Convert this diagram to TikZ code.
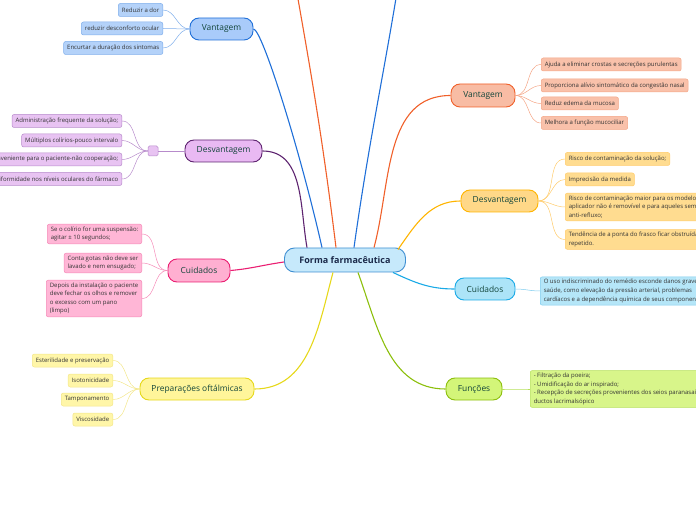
\documentclass[tikz,border=0pt]{standalone}
\usepackage{fontspec}
\setmainfont{Open Sans}
\usepackage{tikz}
\definecolor{HubFill}{HTML}{C6E9FB}
\definecolor{HubLine}{HTML}{3F8FD2}
\definecolor{HubText}{HTML}{1B2A4A}
\definecolor{BranchText}{HTML}{12453A}
\definecolor{LeafText}{HTML}{333333}
\definecolor{BlueFill}{HTML}{A9CBFA}
\definecolor{BlueLine}{HTML}{1F6FD8}
\definecolor{BlueLeafFill}{HTML}{B4D2F9}
\definecolor{BlueLeafLine}{HTML}{7FAEEB}
\definecolor{PurpFill}{HTML}{E9B9F3}
\definecolor{PurpLine}{HTML}{5E2470}
\definecolor{PurpLeafFill}{HTML}{E8C3F2}
\definecolor{PurpLeafLine}{HTML}{B78BCB}
\definecolor{PinkFill}{HTML}{FFAFD1}
\definecolor{PinkLine}{HTML}{EA1E72}
\definecolor{PinkLeafFill}{HTML}{FFB6D6}
\definecolor{PinkLeafLine}{HTML}{F58BB8}
\definecolor{YellFill}{HTML}{FFF59A}
\definecolor{YellLine}{HTML}{E6D81A}
\definecolor{YellLeafFill}{HTML}{FFF6A8}
\definecolor{YellLeafLine}{HTML}{F3E68A}
\definecolor{OrgFill}{HTML}{F8BCA4}
\definecolor{OrgLine}{HTML}{F0602A}
\definecolor{OrgLeafFill}{HTML}{F9C1AA}
\definecolor{OrgLeafLine}{HTML}{F4A586}
\definecolor{GoldFill}{HTML}{FFD888}
\definecolor{GoldLine}{HTML}{FFB400}
\definecolor{GoldLeafFill}{HTML}{FFDC90}
\definecolor{GoldLeafLine}{HTML}{FFCB6A}
\definecolor{CyanFill}{HTML}{ACE4F8}
\definecolor{CyanLine}{HTML}{19A9E6}
\definecolor{CyanLeafFill}{HTML}{B5E6F8}
\definecolor{CyanLeafLine}{HTML}{7FCDEE}
\definecolor{GreenFill}{HTML}{D3F579}
\definecolor{GreenLine}{HTML}{8CBF0C}
\definecolor{GreenLeafFill}{HTML}{D8F58A}
\definecolor{GreenLeafLine}{HTML}{B6E05A}

\tikzset{
  hub/.style={draw=HubLine, fill=HubFill, line width=0.9pt, rounded corners=10pt,
    minimum width=121pt, minimum height=24pt, inner sep=1pt, text=HubText,
    font=\fontsize{9}{10}\selectfont\bfseries},
  branch/.style 2 args={draw=#1, fill=#2, line width=0.9pt, rounded corners=9pt,
    minimum height=22pt, inner sep=1pt, text=BranchText,
    font=\fontsize{8.4}{9}\selectfont},
  leaf/.style 2 args={draw=#1, fill=#2, line width=0.5pt, rounded corners=2pt,
    inner xsep=3.5pt, inner ysep=2.5pt, minimum height=13pt, align=left,
    text=LeafText, font=\fontsize{6}{8.6}\selectfont},
  trunk/.style={line width=1.1pt},
  twig/.style={line width=0.5pt},
}

\begin{document}
\begin{tikzpicture}[x=1pt,y=1pt]
\path[use as bounding box] (0,0) rectangle (696,520);
% centre
\node[hub] (hub) at (345,260) {Forma farmacêutica};
\coordinate (offO) at (284,600);
\coordinate (offB) at (408,600);
% left side
\node[branch={BlueLine}{BlueFill}, minimum width=63pt] (vantL) at (221.5,491) {Vantagem};
\node[leaf={BlueLeafLine}{BlueLeafFill}, anchor=east] (vantLa) at (163,510) {Reduzir a dor};
\node[leaf={BlueLeafLine}{BlueLeafFill}, anchor=east] (vantLb) at (163,491.5) {reduzir  desconforto ocular};
\node[leaf={BlueLeafLine}{BlueLeafFill}, anchor=east] (vantLc) at (163,472) {Encurtar a duração dos sintomas};

\node[branch={PurpLine}{PurpFill}, minimum width=77pt] (desvL) at (223.5,369) {Desvantagem};
\node[draw=PurpLeafLine, fill=PurpLeafFill, line width=0.5pt, rounded corners=1.5pt,
  minimum size=10pt, inner sep=0pt] (desvLk) at (153,369) {};
\node[leaf={PurpLeafLine}{PurpLeafFill}, anchor=east] (desvLa) at (122,399) {Administração frequente da solução;};
\node[leaf={PurpLeafLine}{PurpLeafFill}, anchor=east] (desvLb) at (122,379.5) {Múltiplos colírios-pouco intervalo};
\node[leaf={PurpLeafLine}{PurpLeafFill}, anchor=east] (desvLc) at (122,360.5) {Inconveniente para o paciente-não cooperação;};
\node[leaf={PurpLeafLine}{PurpLeafFill}, anchor=east] (desvLd) at (122,341) {Não uniformidade nos níveis oculares do fármaco};

\node[branch={PinkLine}{PinkFill}, minimum width=62pt, minimum height=23pt] (cuidL) at (199,249.5) {Cuidados};
\node[leaf={PinkLeafLine}{PinkLeafFill}, anchor=east] (cuidLa) at (142,286) {Se o colírio for uma suspensão:\\agitar ± 10 segundos;};
\node[leaf={PinkLeafLine}{PinkLeafFill}, anchor=east] (cuidLb) at (142,257) {Conta gotas não deve ser\\lavado e nem ensugado;};
\node[leaf={PinkLeafLine}{PinkLeafFill}, anchor=east] (cuidLc) at (142,221.5) {Depois da instalação o paciente\\deve fechar os olhos e remover\\o excesso com um pano\\(limpo)};

\node[branch={YellLine}{YellFill}, minimum width=114pt] (prep) at (197,131) {Preparações oftálmicas};
\node[leaf={YellLeafLine}{YellLeafFill}, anchor=east] (prepa) at (113,159.5) {Esterilidade e preservação};
\node[leaf={YellLeafLine}{YellLeafFill}, anchor=east] (prepb) at (113,139.5) {Isotonicidade};
\node[leaf={YellLeafLine}{YellLeafFill}, anchor=east] (prepc) at (113,120.5) {Tamponamento};
\node[leaf={YellLeafLine}{YellLeafFill}, anchor=east] (prepd) at (113,100.5) {Viscosidade};
% right side
\node[branch={OrgLine}{OrgFill}, minimum width=64pt, minimum height=23pt] (vantR) at (483,424.5) {Vantagem};
\node[leaf={OrgLeafLine}{OrgLeafFill}, anchor=west] (vantRa) at (541,455.5) {Ajuda a eliminar crostas e secreções purulentas};
\node[leaf={OrgLeafLine}{OrgLeafFill}, anchor=west] (vantRb) at (541,434.5) {Proporciona alívio sintomático da congestão nasal};
\node[leaf={OrgLeafLine}{OrgLeafFill}, anchor=west] (vantRc) at (541,416.5) {Reduz edema da mucosa};
\node[leaf={OrgLeafLine}{OrgLeafFill}, anchor=west] (vantRd) at (541,397) {Melhora a função mucociliar};

\node[branch={GoldLine}{GoldFill}, minimum width=77pt] (desvR) at (499.5,319) {Desvantagem};
\node[leaf={GoldLeafLine}{GoldLeafFill}, anchor=west] (desvRa) at (565,361) {Risco de contaminação da solução;};
\node[leaf={GoldLeafLine}{GoldLeafFill}, anchor=west] (desvRb) at (565,340.5) {Imprecisão da medida};
\node[leaf={GoldLeafLine}{GoldLeafFill}, anchor=west] (desvRc) at (565,313) {Risco de contaminação maior para os modelos cujo\\aplicador não é removível e para aqueles sem sistema\\anti-refluxo;};
\node[leaf={GoldLeafLine}{GoldLeafFill}, anchor=west] (desvRd) at (565,280.5) {Tendência de a ponta do frasco ficar obstruída com o uso\\repetido.};

\node[branch={CyanLine}{CyanFill}, minimum width=60pt] (cuidR) at (485,231) {Cuidados};
\node[leaf={CyanLeafLine}{CyanLeafFill}, anchor=west] (cuidRa) at (540,229) {O uso indiscriminado do remédio esconde danos graves à\\saúde, como elevação da pressão arterial, problemas\\cardíacos e a dependência química de seus componentes};

\node[branch={GreenLine}{GreenFill}, minimum width=56pt] (func) at (474,131) {Funções};
\node[leaf={GreenLeafLine}{GreenLeafFill}, anchor=west] (funca) at (530,131) {- Filtração da poeira;\\- Umidificação do ar inspirado;\\- Recepção de secreções provenientes dos seios paranasais e\\ductos lacrimalsópico};
% trunks
\draw[trunk, PurpLine] ([xshift=-38pt]hub.north) to[out=100,in=0] (desvL.east);
\draw[trunk, BlueLine] ([xshift=-23pt]hub.north) .. controls (300,370) and (262,491) .. (vantL.east);
\draw[trunk, OrgLine] ([xshift=-9pt]hub.north) to[out=97,in=-80] (offO);
\draw[trunk, BlueLine] ([xshift=9pt]hub.north) to[out=82,in=-98] (offB);
\draw[trunk, OrgLine] ([xshift=29pt]hub.north) to[out=75,in=180] (vantR.west);
\draw[trunk, GoldLine] ([xshift=-8pt,yshift=-2pt]hub.north east) to[out=55,in=180] (desvR.west);
\draw[trunk, CyanLine] ([xshift=-13pt]hub.south east) to[out=-25,in=180] (cuidR.west);
\draw[trunk, GreenLine] ([xshift=13pt]hub.south) to[out=-70,in=180] (func.west);
\draw[trunk, YellLine] ([xshift=-12pt]hub.south) to[out=-105,in=0] (prep.east);
\draw[trunk, PinkLine] ([yshift=-2pt]hub.west) to[out=188,in=5] (cuidL.east);
% twigs
\foreach \n in {vantLa,vantLb,vantLc}
  \draw[twig, BlueLeafLine] (vantL.west) to[out=180,in=0] (\n.east);
\draw[twig, PurpLeafLine] (desvL.west) -- (desvLk.east);
\foreach \n in {desvLa,desvLb,desvLc,desvLd}
  \draw[twig, PurpLeafLine] (desvLk.west) to[out=180,in=0] (\n.east);
\foreach \n in {cuidLa,cuidLb,cuidLc}
  \draw[twig, PinkLeafLine] (cuidL.west) to[out=180,in=0] (\n.east);
\foreach \n in {prepa,prepb,prepc,prepd}
  \draw[twig, YellLeafLine] (prep.west) to[out=180,in=0] (\n.east);
\foreach \n in {vantRa,vantRb,vantRc,vantRd}
  \draw[twig, OrgLeafLine] (vantR.east) to[out=0,in=180] (\n.west);
\foreach \n in {desvRa,desvRb,desvRc,desvRd}
  \draw[twig, GoldLeafLine] (desvR.east) to[out=0,in=180] (\n.west);
\draw[twig, CyanLeafLine] (cuidR.east) to[out=0,in=180] (cuidRa.west);
\draw[twig, GreenLeafLine] (func.east) to[out=0,in=180] (funca.west);
\end{tikzpicture}
\end{document}
